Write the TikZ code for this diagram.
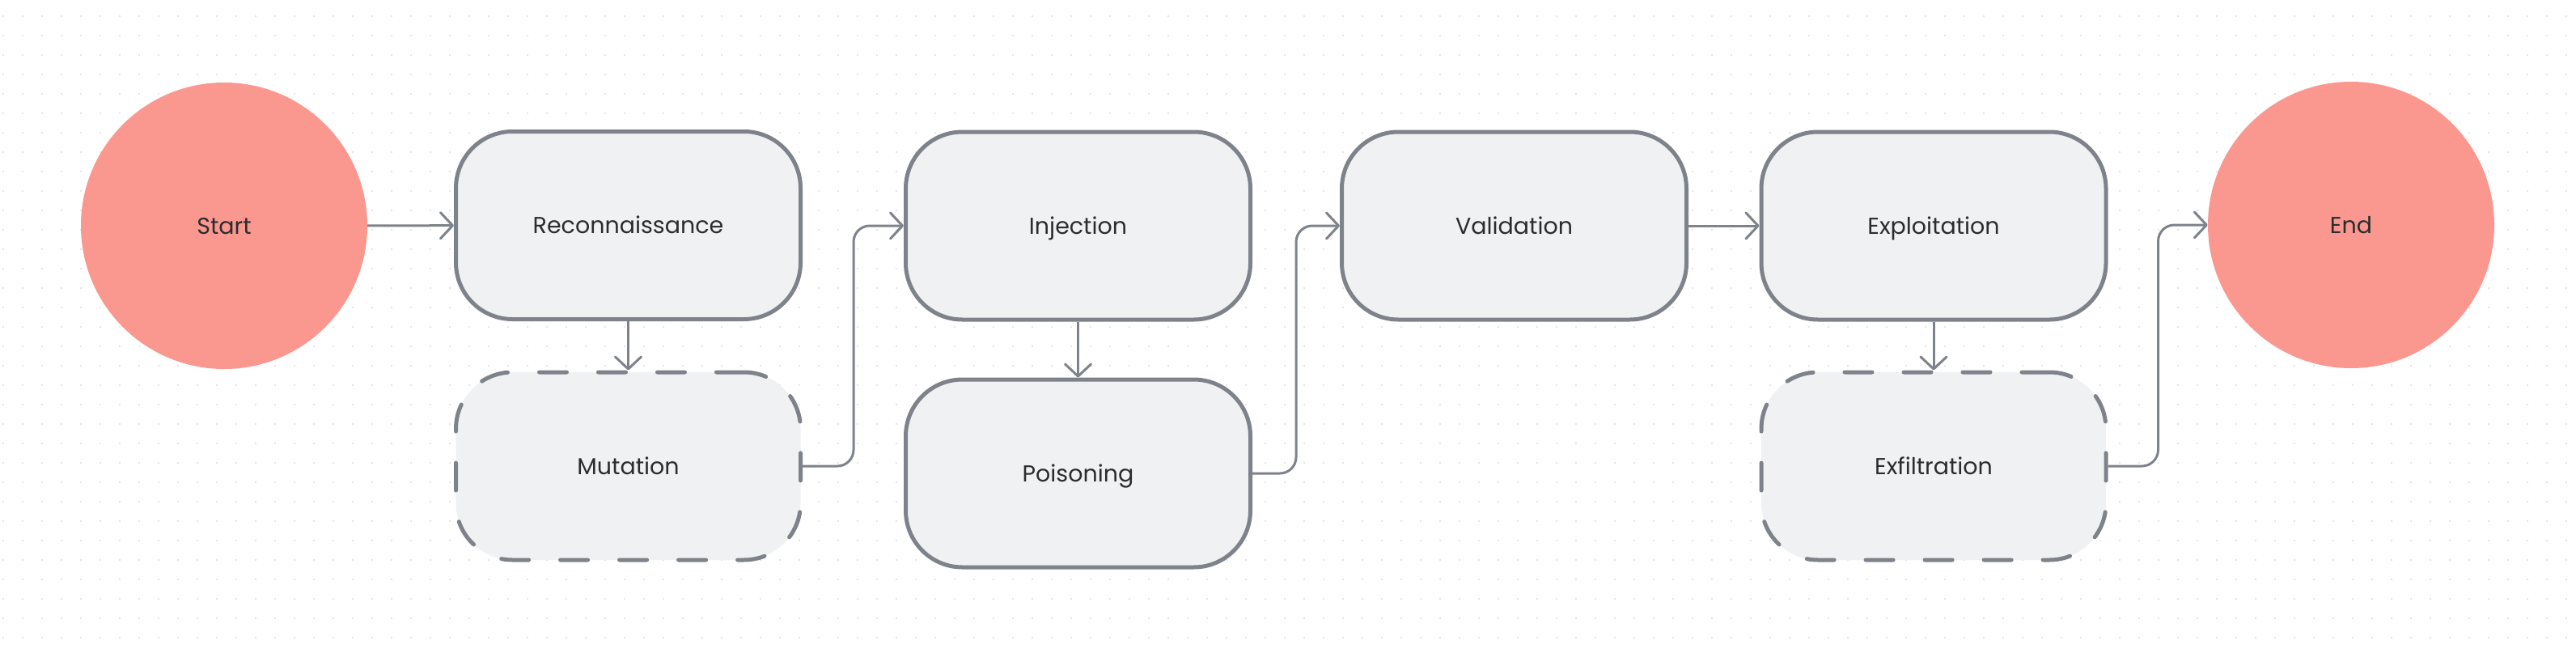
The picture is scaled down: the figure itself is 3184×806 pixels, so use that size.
\documentclass[tikz,border=0pt]{standalone}
\usepackage{fontspec}
\setmainfont{Poppins}
\usepackage{tikz}
\usetikzlibrary{arrows.meta}
\usetikzlibrary{positioning}
\definecolor{edgegray}{HTML}{7E838B}
\definecolor{boxfill}{HTML}{F0F1F3}
\definecolor{termred}{HTML}{FA9890}
\definecolor{labelblack}{HTML}{2B2C30}
\definecolor{dotgray}{HTML}{DCDEE3}
\tikzstyle{stage} = [draw=edgegray, line width=5pt, fill=boxfill, rounded corners=70pt, minimum width=426pt, minimum height=232pt, text=labelblack, font=\fontsize{28.5}{34}\selectfont, text height=20pt, text depth=0pt]
\tikzstyle{optional} = [stage, dash pattern=on 34pt off 39pt, line cap=round]
\tikzstyle{terminal} = [circle, fill=termred, minimum size=354pt, text=labelblack, font=\fontsize{28.5}{34}\selectfont, text height=20pt, text depth=0pt]

\begin{document}
\begin{tikzpicture}[x=1pt, y=-1pt, arrow/.style={draw=edgegray, line width=3pt, ->, >={Straight Barb[length=15pt,width=32pt,round]}, rounded corners=20pt}]
	\useasboundingbox[fill=white] (0,0) rectangle (3184,806);
	\foreach \gx in {4,28,...,3184}
		\foreach \gy in {20,44,...,806}
			\fill[dotgray] (\gx,\gy) circle (1.2pt);

	\node[terminal] (start) at (277,279) {Start};
	\node[stage] (recon) at (776.5,278.5) {Reconnaissance};
	\node[optional] (mutation) at (776.5,576) {Mutation};
	\node[stage] (injection) at (1332.5,279) {Injection};
	\node[stage] (poisoning) at (1332.5,585) {Poisoning};
	\node[stage] (validation) at (1871.5,279) {Validation};
	\node[stage] (exploitation) at (2390,279) {Exploitation};
	\node[optional] (exfiltration) at (2390,576) {Exfiltration};
	\node[terminal] (end) at (2906,278) {End};

	\draw[arrow] (start) -- (recon);
	\draw[arrow] (recon) -- (mutation);
	\draw[arrow] (mutation.east) -- ++(63,0) |- (injection.west);
	\draw[arrow] (injection) -- (poisoning);
	\draw[arrow] (poisoning.east) -- ++(54,0) |- (validation.west);
	\draw[arrow] (validation) -- (exploitation);
	\draw[arrow] (exploitation) -- (exfiltration);
	\draw[arrow] (exfiltration.east) -- ++(62,0) |- (end.west);
\end{tikzpicture}
\end{document}
